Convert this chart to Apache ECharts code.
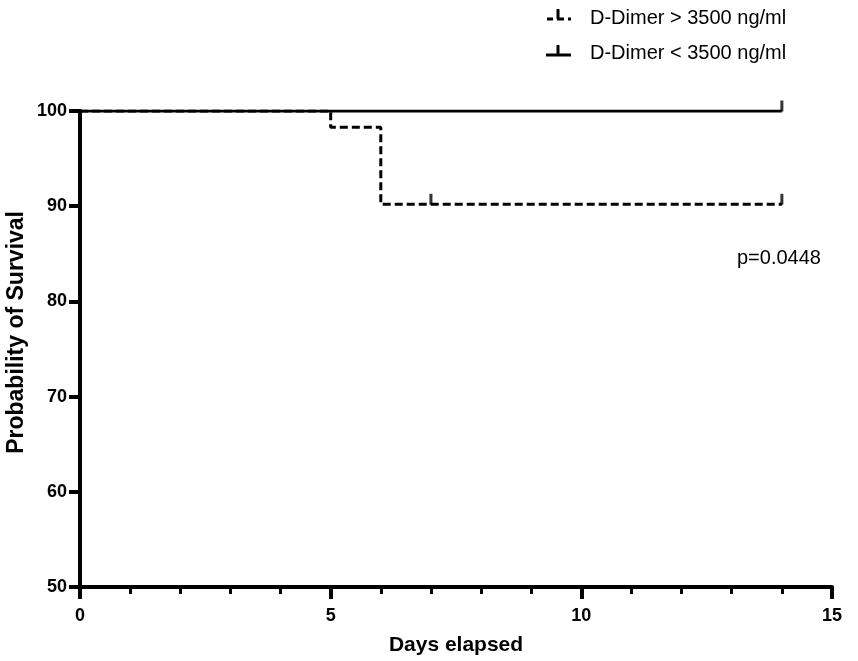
<!DOCTYPE html>
<html>
<head>
<meta charset="utf-8">
<script src="https://cdn.jsdelivr.net/npm/echarts@6/dist/echarts.min.js"></script>
<style>html,body{margin:0;padding:0;background:#fff}#c{width:858px;height:661px}</style>
</head>
<body>
<div id="c"></div>
<script>
// Kaplan-Meier step data (day, survival %)
var highDays = [0, 5, 6, 14];
var highSurv = [100, 98.3, 90.2, 90.2];
var lowDays = [0, 14];
var lowSurv = [100, 100];
// censored observations
var highCensorDays = [7, 14];
var highCensorSurv = [90.2, 90.2];
var lowCensorDays = [14];
var lowCensorSurv = [100];
var seriesNames = ['D-Dimer > 3500 ng/ml', 'D-Dimer < 3500 ng/ml'];
var pText = 'p=0.0448';

function pairs(xs, ys) { return xs.map(function (x, i) { return [x, ys[i]]; }); }

var FONT = '"Liberation Sans", Arial, sans-serif';
var chart = echarts.init(document.getElementById('c'));
var censorSymbol = 'path://M0,0L3,0L3,11L0,11Z';

chart.setOption({
  animation: false,
  backgroundColor: '#fff',
  grid: { left: 80, right: 26, top: 111, bottom: 71, containLabel: false },
  xAxis: {
    type: 'value', min: 0, max: 15, interval: 5,
    name: 'Days elapsed', nameLocation: 'middle', nameGap: 48,
    nameTextStyle: { fontFamily: FONT, fontWeight: 'bold', fontSize: 21, color: '#000' },
    axisLine: { show: true, onZero: false, lineStyle: { color: '#000', width: 4 } },
    axisTick: { show: true, length: 12, lineStyle: { color: '#000', width: 4 } },
    minorTick: { show: true, splitNumber: 5, length: 7, lineStyle: { color: '#000', width: 3 } },
    axisLabel: { fontFamily: FONT, fontWeight: 'bold', fontSize: 18, color: '#000', margin: 20 },
    splitLine: { show: false }
  },
  yAxis: {
    type: 'value', min: 50, max: 100, interval: 10,
    axisLine: { show: true, onZero: false, lineStyle: { color: '#000', width: 4 } },
    axisTick: { show: true, length: 11, lineStyle: { color: '#000', width: 4 } },
    axisLabel: { fontFamily: FONT, fontWeight: 'bold', fontSize: 18, color: '#000', margin: 13 },
    splitLine: { show: false }
  },
  graphic: [
    { type: 'text', left: 5, top: 211, rotation: Math.PI / 2,
      style: { text: 'Probability of Survival', font: 'bold 23px ' + FONT, fill: '#000' } },
    { type: 'text', left: 737, top: 248,
      style: { text: pText, font: '20px ' + FONT, fill: '#000' } },
    // legend row 1 (dashed with censor tick)
    { type: 'line', shape: { x1: 547, y1: 19, x2: 553, y2: 19 }, style: { stroke: '#000', lineWidth: 3 } },
    { type: 'line', shape: { x1: 557, y1: 19, x2: 564, y2: 19 }, style: { stroke: '#000', lineWidth: 3 } },
    { type: 'line', shape: { x1: 558, y1: 9, x2: 558, y2: 19 }, style: { stroke: '#000', lineWidth: 3 } },
    { type: 'line', shape: { x1: 568, y1: 19, x2: 571, y2: 19 }, style: { stroke: '#000', lineWidth: 3 } },
    { type: 'text', left: 590, top: 8, style: { text: seriesNames[0], font: '20px ' + FONT, fill: '#000' } },
    // legend row 2 (solid with censor tick)
    { type: 'line', shape: { x1: 546, y1: 55, x2: 571, y2: 55 }, style: { stroke: '#000', lineWidth: 3 } },
    { type: 'line', shape: { x1: 558, y1: 45, x2: 558, y2: 55 }, style: { stroke: '#000', lineWidth: 3 } },
    { type: 'text', left: 590, top: 43, style: { text: seriesNames[1], font: '20px ' + FONT, fill: '#000' } }
  ],
  series: [
    { name: seriesNames[1], type: 'line', step: 'end', showSymbol: false, symbol: 'none',
      data: pairs(lowDays, lowSurv), lineStyle: { color: '#000', width: 3 }, z: 3 },
    { name: seriesNames[0], type: 'line', step: 'end', showSymbol: false, symbol: 'none',
      data: pairs(highDays, highSurv), lineStyle: { color: '#000', width: 3, type: [8, 4] }, z: 4 },
    { type: 'scatter', data: pairs(highCensorDays, highCensorSurv), symbol: censorSymbol,
      symbolSize: [3, 11], symbolOffset: [0, -5], itemStyle: { color: '#000' }, z: 5 },
    { type: 'scatter', data: pairs(lowCensorDays, lowCensorSurv), symbol: censorSymbol,
      symbolSize: [3, 11], symbolOffset: [0, -5], itemStyle: { color: '#000' }, z: 5 }
  ]
});
</script>
</body>
</html>
